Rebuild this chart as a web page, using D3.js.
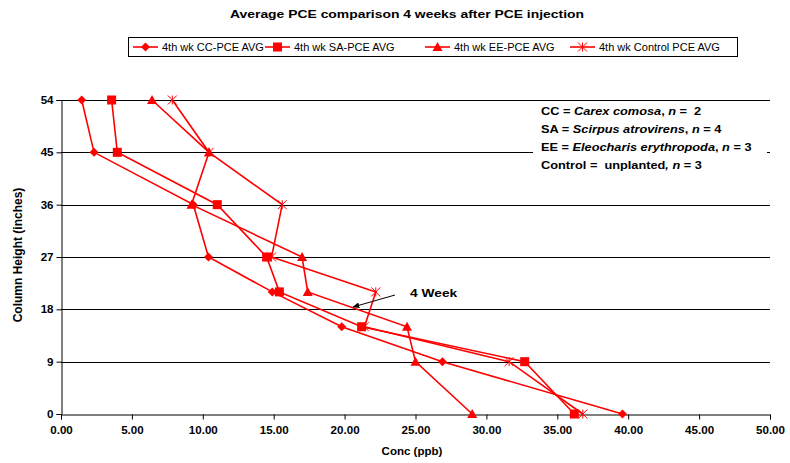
<!DOCTYPE html>
<html><head><meta charset="utf-8">
<script src="https://cdn.jsdelivr.net/npm/d3@7"></script>
<style>body{margin:0;background:#fff}svg{display:block;font-family:"Liberation Sans",Arial,sans-serif}</style>
</head><body><svg id="c" width="790" height="463"></svg>
<script>
const heights = [54, 45, 36, 27, 21, 15, 9, 0];
const seriesNames = ["4th wk CC-PCE AVG", "4th wk SA-PCE AVG", "4th wk EE-PCE AVG", "4th wk Control PCE AVG"];
const ccValues = [1.46, 2.33, 9.33, 10.4, 14.9, 19.8, 26.9, 39.6];
const saValues = [3.57, 3.97, 11.02, 14.5, 15.4, 21.2, 32.7, 36.2];
const eeValues = [6.42, 10.44, 9.2, 17.0, 17.4, 24.4, 25.0, 29.0];
const controlValues = [7.85, 10.44, 15.6, 14.85, 22.2, 21.4, 31.6, 36.8];
const xTicks = [0, 5, 10, 15, 20, 25, 30, 35, 40, 45, 50];
const yTicks = [0, 9, 18, 27, 36, 45, 54];
const markers = ["diamond", "square", "triangle", "asterisk"];

const svg = d3.select("#c");
const x = d3.scaleLinear().domain([0, 50]).range([61, 770]);
const y = d3.scaleLinear().domain([0, 54]).range([414, 100]);
const red = "#ff0000";
const SX = 1.16;

svg.append("text").attr("x", 407).attr("y", 18).attr("text-anchor", "middle")
  .attr("font-size", 11.5).attr("font-weight", "bold")
  .attr("textLength", 354).attr("lengthAdjust", "spacingAndGlyphs")
  .text("Average PCE comparison 4 weeks after PCE injection");

// gridlines
svg.append("g").selectAll("line").data(yTicks.filter(d => d > 0)).join("line")
  .attr("x1", 61).attr("x2", 770).attr("y1", d => Math.round(y(d)) + 0.5).attr("y2", d => Math.round(y(d)) + 0.5)
  .attr("stroke", "#000").attr("stroke-width", 1);

// axes
const xAxis = d3.axisBottom(x).tickValues(xTicks).tickFormat(d3.format(".2f")).tickSize(5).tickPadding(7);
const gx = svg.append("g").attr("transform", "translate(0,414.5)").call(xAxis);
const yAxis = d3.axisLeft(y).tickValues(yTicks).tickSize(5).tickPadding(4);
const gy = svg.append("g").attr("transform", "translate(61.5,0)").call(yAxis);
[gx, gy].forEach(g => {
  g.select(".domain").attr("stroke", "#000");
  g.selectAll(".tick line").attr("stroke", "#000");
  g.selectAll("text").attr("font-size", 10).attr("font-weight", "bold").attr("fill", "#000")
    .attr("font-family", "'Liberation Sans',Arial,sans-serif").attr("transform", `scale(${SX},1)`);
});
gy.selectAll(".tick text").attr("dy", "0.35em").attr("x", -8 / SX);

svg.append("text").attr("x", 412).attr("y", 455).attr("text-anchor", "middle")
  .attr("font-size", 11).attr("font-weight", "bold")
  .attr("transform", `translate(412,0) scale(1.05,1) translate(-412,0)`).text("Conc (ppb)");
svg.append("text").attr("transform", "translate(22,255) rotate(-90)").attr("text-anchor", "middle")
  .attr("font-size", 12).attr("font-weight", "bold").text("Column Height (inches)");

function drawMarker(g, type, cx, cy) {
  if (type === "diamond") {
    g.append("path").attr("d", `M${cx},${cy-4.5}L${cx+4.5},${cy}L${cx},${cy+4.5}L${cx-4.5},${cy}Z`).attr("fill", red);
  } else if (type === "square") {
    g.append("rect").attr("x", cx - 4.5).attr("y", cy - 4.5).attr("width", 9).attr("height", 9).attr("fill", red);
  } else if (type === "triangle") {
    g.append("path").attr("d", `M${cx},${cy-5}L${cx+5},${cy+4}L${cx-5},${cy+4}Z`).attr("fill", red);
  } else {
    const r = 4.5;
    g.append("path").attr("d", `M${cx-r},${cy-r}L${cx+r},${cy+r}M${cx-r},${cy+r}L${cx+r},${cy-r}M${cx},${cy-r}L${cx},${cy+r}`)
      .attr("stroke", red).attr("stroke-width", 1).attr("fill", "none");
  }
}

const allSeries = [ccValues, saValues, eeValues, controlValues];
const line = d3.line().x(d => x(d[0])).y(d => y(d[1]));
allSeries.forEach((vals, i) => {
  const pts = vals.map((v, j) => [v, heights[j]]);
  const g = svg.append("g");
  g.append("path").attr("d", line(pts)).attr("fill", "none").attr("stroke", red).attr("stroke-width", 1.6);
  pts.forEach(p => drawMarker(g, markers[i], x(p[0]), y(p[1])));
});

// annotation box
const ann = svg.append("g");
ann.append("rect").attr("x", 533).attr("y", 102).attr("width", 234).attr("height", 68).attr("fill", "#fff");
const annLines = [
  [["CC = ", false], ["Carex comosa", true], [", ", false], ["n", true], [" =  2", false]],
  [["SA = ", false], ["Scirpus atrovirens", true], [", ", false], ["n", true], [" = 4", false]],
  [["EE = ", false], ["Eleocharis erythropoda", true], [", ", false], ["n", true], [" = 3", false]],
  [["Control =  unplanted", false], [", ", true], ["n", true], [" = 3", false]]
];
annLines.forEach((parts, i) => {
  const t = ann.append("text").attr("transform", `translate(541,${115 + i * 18}) scale(1.16,1)`)
    .attr("font-size", 11).attr("font-weight", "bold").style("white-space", "pre");
  parts.forEach(p => t.append("tspan").attr("font-style", p[1] ? "italic" : "normal").text(p[0]));
});

// 4 Week annotation
svg.append("defs").append("marker").attr("id", "ah").attr("viewBox", "0 0 10 10").attr("refX", 9).attr("refY", 5)
  .attr("markerWidth", 7).attr("markerHeight", 7).attr("orient", "auto")
  .append("path").attr("d", "M0,1L10,5L0,9Z").attr("fill", "#000");
svg.append("line").attr("x1", 395).attr("y1", 295).attr("x2", 353).attr("y2", 307)
  .attr("stroke", "#000").attr("stroke-width", 1).attr("marker-end", "url(#ah)");
svg.append("text").attr("transform", "translate(410,297) scale(1.2,1)").attr("font-size", 11.5).attr("font-weight", "bold").text("4 Week");

// legend
const lg = svg.append("g");
lg.append("rect").attr("x", 128.5).attr("y", 37.5).attr("width", 609).attr("height", 19).attr("fill", "#fff").attr("stroke", "#000");
const legX = [133, 265, 425, 570];
seriesNames.forEach((n, i) => {
  const g = lg.append("g");
  g.append("line").attr("x1", legX[i]).attr("x2", legX[i] + 25).attr("y1", 47).attr("y2", 47).attr("stroke", red).attr("stroke-width", 1.6);
  drawMarker(g, markers[i], legX[i] + 12.5, 47);
  g.append("text").attr("x", legX[i] + 29).attr("y", 51).attr("font-size", 11).text(n);
});
</script></body></html>
